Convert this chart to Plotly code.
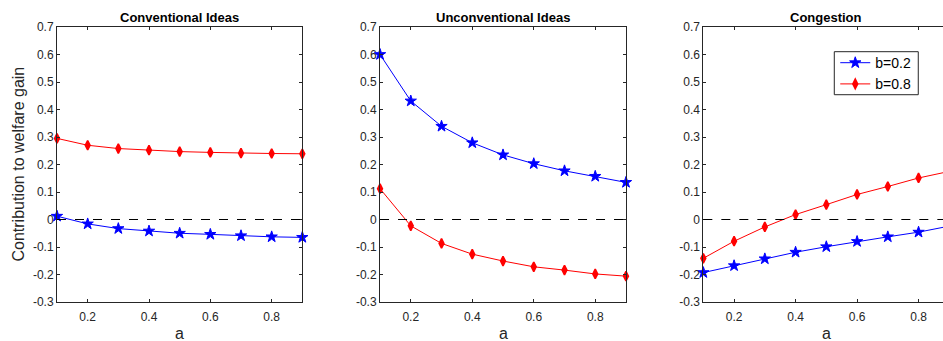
import plotly.graph_objects as go

# x values (parameter a) shared by every panel
a_vals = [0.1, 0.2, 0.3, 0.4, 0.5, 0.6, 0.7, 0.8, 0.9]

# Contribution to welfare gain, by channel and by b
conv_b02 = [0.012, -0.016, -0.033, -0.042, -0.050, -0.054, -0.059, -0.063, -0.065]
conv_b08 = [0.295, 0.270, 0.258, 0.252, 0.247, 0.244, 0.241, 0.240, 0.239]
unconv_b02 = [0.600, 0.431, 0.339, 0.279, 0.235, 0.203, 0.177, 0.157, 0.135]
unconv_b08 = [0.112, -0.023, -0.087, -0.126, -0.151, -0.172, -0.184, -0.198, -0.206]
cong_b02 = [-0.193, -0.168, -0.143, -0.119, -0.099, -0.080, -0.063, -0.046, -0.024]
cong_b08 = [-0.141, -0.079, -0.027, 0.018, 0.054, 0.091, 0.120, 0.151, 0.175]

panel_titles = ["Conventional Ideas", "Unconventional Ideas", "Congestion"]
series_names = ["b=0.2", "b=0.8"]

y_ticks = [-0.3, -0.2, -0.1, 0, 0.1, 0.2, 0.3, 0.4, 0.5, 0.6, 0.7]
y_tick_labels = ["-0.3", "-0.2", "-0.1", "0", "0.1", "0.2", "0.3", "0.4", "0.5", "0.6", "0.7"]
x_ticks = [0.2, 0.4, 0.6, 0.8]
x_tick_labels = ["0.2", "0.4", "0.6", "0.8"]

FONT = "Liberation Sans, Arial, sans-serif"
AXCOL = "#262626"
BLUE = "#0000ff"
RED = "#ff0000"

panels = [(conv_b02, conv_b08), (unconv_b02, unconv_b08), (cong_b02, cong_b08)]
domains = [[0.0, 0.2769], [0.3646, 0.6422], [0.7295, 1.0]]
x_ranges = [[0.1, 0.9], [0.1, 0.9], [0.1, 0.8795]]
# horizontal centre of each panel in paper units (the third runs past the page edge)
centers = [0.1385, 0.5034, 0.8683]

fig = go.Figure()

for i, (low_b, high_b) in enumerate(panels):
    sfx = "" if i == 0 else str(i + 1)
    fig.add_trace(go.Scatter(
        x=a_vals, y=low_b, mode="lines+markers", name=series_names[0],
        xaxis="x" + sfx, yaxis="y" + sfx, showlegend=(i == 2), cliponaxis=False,
        line=dict(color=BLUE, width=1),
        marker=dict(symbol="star", size=8.5, color=BLUE, line=dict(width=1, color=BLUE)),
    ))
    fig.add_trace(go.Scatter(
        x=a_vals, y=high_b, mode="lines+markers", name=series_names[1],
        xaxis="x" + sfx, yaxis="y" + sfx, showlegend=(i == 2), cliponaxis=False,
        line=dict(color=RED, width=1),
        marker=dict(symbol="diamond-tall", size=6.8, color=RED, line=dict(width=1.6, color=RED)),
    ))

    fig.update_layout({
        "xaxis" + sfx: dict(
            domain=domains[i], range=x_ranges[i], anchor="y" + sfx,
            tickvals=x_ticks, ticktext=x_tick_labels,
            ticks="inside", ticklen=3, tickcolor=AXCOL, ticklabelstandoff=4,
            showline=True, linecolor=AXCOL, linewidth=1, mirror="ticks",
            showgrid=False, zeroline=False,
            tickfont=dict(family=FONT, size=12, color=AXCOL),
        ),
        "yaxis" + sfx: dict(
            domain=[0, 1], range=[-0.3, 0.7], anchor="x" + sfx,
            tickvals=y_ticks, ticktext=y_tick_labels,
            ticks="inside", ticklen=3, tickcolor=AXCOL,
            showline=True, linecolor=AXCOL, linewidth=1,
            mirror=("ticks" if i < 2 else False),
            showgrid=False, zeroline=False,
            tickfont=dict(family=FONT, size=12, color=AXCOL),
        ),
    })

    # dashed reference line at zero
    fig.add_shape(type="line", xref="x" + sfx + " domain", yref="y" + sfx,
                  x0=0, x1=1, y0=0, y1=0,
                  line=dict(color="black", width=1, dash="dash"))

    fig.add_annotation(text="<b>" + panel_titles[i] + "</b>", xref="paper", yref="paper",
                       x=centers[i], y=1.034, xanchor="center", yanchor="middle", showarrow=False,
                       font=dict(family=FONT, size=13, color="black"))
    fig.add_annotation(text="a", xref="paper", yref="paper",
                       x=centers[i], y=-0.115, xanchor="center", yanchor="middle", showarrow=False,
                       font=dict(family=FONT, size=16, color=AXCOL))

fig.add_annotation(text="Contribution to welfare gain", xref="paper", yref="paper",
                   x=-0.044, y=0.5, xanchor="center", yanchor="middle", textangle=-90,
                   showarrow=False, font=dict(family=FONT, size=16, color=AXCOL))

# framed white box behind the legend entries
fig.add_shape(type="rect", xref="paper", yref="paper",
              x0=0.8773, x1=0.9721, y0=0.7538, y1=0.9102, layer="above",
              fillcolor="white", line=dict(color=AXCOL, width=1))

fig.update_layout(
    width=943, height=341,
    margin=dict(l=57, r=0, t=27, b=39),
    paper_bgcolor="white", plot_bgcolor="white",
    legend=dict(x=0.8784, y=0.9269, xanchor="left", yanchor="top",
                bgcolor="rgba(0,0,0,0)", borderwidth=0,
                font=dict(family=FONT, size=14, color="black"),
                tracegroupgap=0, itemwidth=30),
)

fig.write_html("out.html")
